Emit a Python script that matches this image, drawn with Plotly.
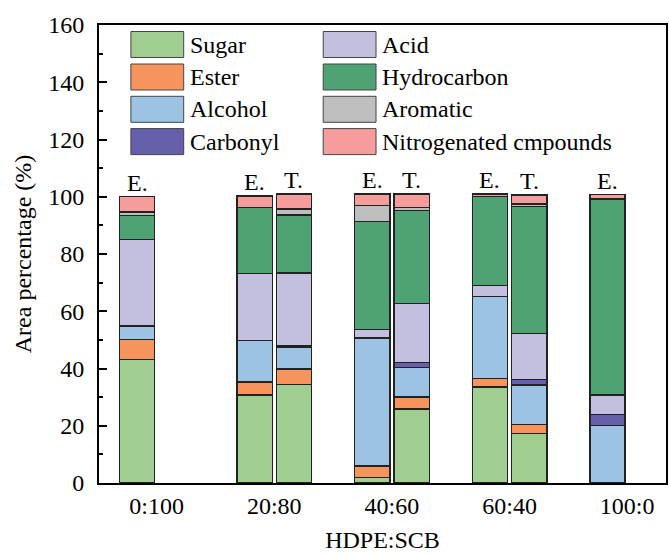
import plotly.graph_objects as go

# ---------------- data ----------------
categories = ["0:100", "20:80", "40:60", "60:40", "100:0"]
t_categories = ["20:80", "40:60", "60:40"]

series_names = ["Sugar", "Ester", "Alcohol", "Carbonyl", "Acid",
                "Hydrocarbon", "Aromatic", "Nitrogenated cmpounds"]

sugar_E = [43.2, 30.8, 2.0, 33.5, 0]
ester_E = [7.0, 4.5, 4.0, 3.1, 0]
alcohol_E = [4.6, 14.4, 44.7, 28.6, 20.1]
carbonyl_E = [0, 0, 0, 0, 3.9]
acid_E = [30.3, 23.4, 2.9, 3.9, 6.8]
hydrocarbon_E = [8.3, 23.1, 37.7, 30.9, 68.4]
aromatic_E = [1.3, 0, 5.7, 0, 0]
nitro_E = [5.3, 4.0, 4.0, 1.0, 1.5]

sugar_T = [34.5, 25.9, 17.3]
ester_T = [5.3, 4.2, 3.1]
alcohol_T = [7.7, 10.3, 13.8]
carbonyl_T = [0.4, 1.8, 1.9]
acid_T = [25.5, 20.6, 16.1]
hydrocarbon_T = [20.2, 32.5, 44.3]
aromatic_T = [2.1, 1.0, 1.0]
nitro_T = [5.2, 4.6, 3.1]

y_ticks = [0, 20, 40, 60, 80, 100, 120, 140, 160]

# ---------------- style ----------------
colors = ["#A0CD90", "#F5955D", "#9DC3E4", "#655FAC", "#C3BFDF",
          "#4FA273", "#BEBEBE", "#F59D9D"]
E_series = [sugar_E, ester_E, alcohol_E, carbonyl_E, acid_E,
            hydrocarbon_E, aromatic_E, nitro_E]
T_series = [sugar_T, ester_T, alcohol_T, carbonyl_T, acid_T,
            hydrocarbon_T, aromatic_T, nitro_T]

FONT = "Liberation Serif"
W, H = 669, 556
ML, MR, MT, MB = 99, 1, 25, 73
PW, PH = W - ML - MR, H - MT - MB

OFF = 0.167
BW = 0.30
cat_idx = {c: i for i, c in enumerate(categories)}
xE = [cat_idx[c] - OFF for c in categories]
xT = [cat_idx[c] + OFF for c in t_categories]


def nz(v):
    return [None if a == 0 else a for a in v]


fig = go.Figure()
for name, col, vE, vT in zip(series_names, colors, E_series, T_series):
    fig.add_trace(go.Bar(x=xE, y=nz(vE), width=BW, name=name,
                         marker=dict(color=col, line=dict(color="#222222", width=1.4)),
                         showlegend=False))
    fig.add_trace(go.Bar(x=xT, y=nz(vT), width=BW, name=name,
                         marker=dict(color=col, line=dict(color="#222222", width=1.4)),
                         showlegend=False))

# E./T. labels above bars
totE = [sum(s[i] for s in E_series) for i in range(len(categories))]
totT = [sum(s[i] for s in T_series) for i in range(len(t_categories))]
annotations = []
for x, t in zip(xE, totE):
    annotations.append(dict(x=x, y=t, text="E.", showarrow=False, xref="x", yref="y",
                            yanchor="bottom", yshift=-1, font=dict(family=FONT, size=24, color="black")))
for x, t in zip(xT, totT):
    annotations.append(dict(x=x, y=t, text="T.", showarrow=False, xref="x", yref="y",
                            yanchor="bottom", yshift=-1, font=dict(family=FONT, size=24, color="black")))


def px2paper_x(px):
    return (px - ML) / PW


def px2paper_y(py):
    return (H - MB - py) / PH


# custom legend
shapes = []
col_x = [131, 324]
row_y = [44.5, 77, 109.3, 141.6]
sw_w, sw_h = 53, 26
for i, (name, col) in enumerate(zip(series_names, colors)):
    cx = col_x[i // 4]
    cy = row_y[i % 4]
    shapes.append(dict(type="rect", xref="paper", yref="paper",
                       x0=px2paper_x(cx), x1=px2paper_x(cx + sw_w),
                       y0=px2paper_y(cy + sw_h / 2), y1=px2paper_y(cy - sw_h / 2),
                       fillcolor=col, line=dict(color="#444444", width=1)))
    annotations.append(dict(x=px2paper_x(cx + sw_w + 4), y=px2paper_y(cy), xref="paper", yref="paper",
                            text=name, showarrow=False, xanchor="left", yanchor="middle",
                            font=dict(family=FONT, size=24, color="black")))

fig.update_layout(
    width=W, height=H,
    margin=dict(l=ML, r=MR, t=MT, b=MB),
    barmode="stack",
    paper_bgcolor="white", plot_bgcolor="white",
    font=dict(family=FONT, size=24, color="black"),
    shapes=shapes, annotations=annotations,
    showlegend=False,
)
fig.update_xaxes(range=[-0.49, 4.33], tickvals=list(range(len(categories))), ticktext=categories,
                 showgrid=False, zeroline=False, showline=True, linecolor="black", linewidth=2,
                 mirror=True, ticks="", tickfont=dict(family=FONT, size=24),
                 title=dict(text="HDPE:SCB", font=dict(family=FONT, size=24), standoff=13))
fig.update_yaxes(range=[0, 160], tickvals=y_ticks, showgrid=False, zeroline=False,
                 showline=True, linecolor="black", linewidth=2, mirror=True,
                 ticks="inside", ticklen=8, tickwidth=2, tickcolor="black",
                 minor=dict(dtick=10, ticks="inside", ticklen=4, tickwidth=2, tickcolor="black"),
                 ticklabelstandoff=8,
                 tickfont=dict(family=FONT, size=24),
                 title=dict(text="Area percentage (%)", font=dict(family=FONT, size=24), standoff=10))

fig.write_html("out.html")
